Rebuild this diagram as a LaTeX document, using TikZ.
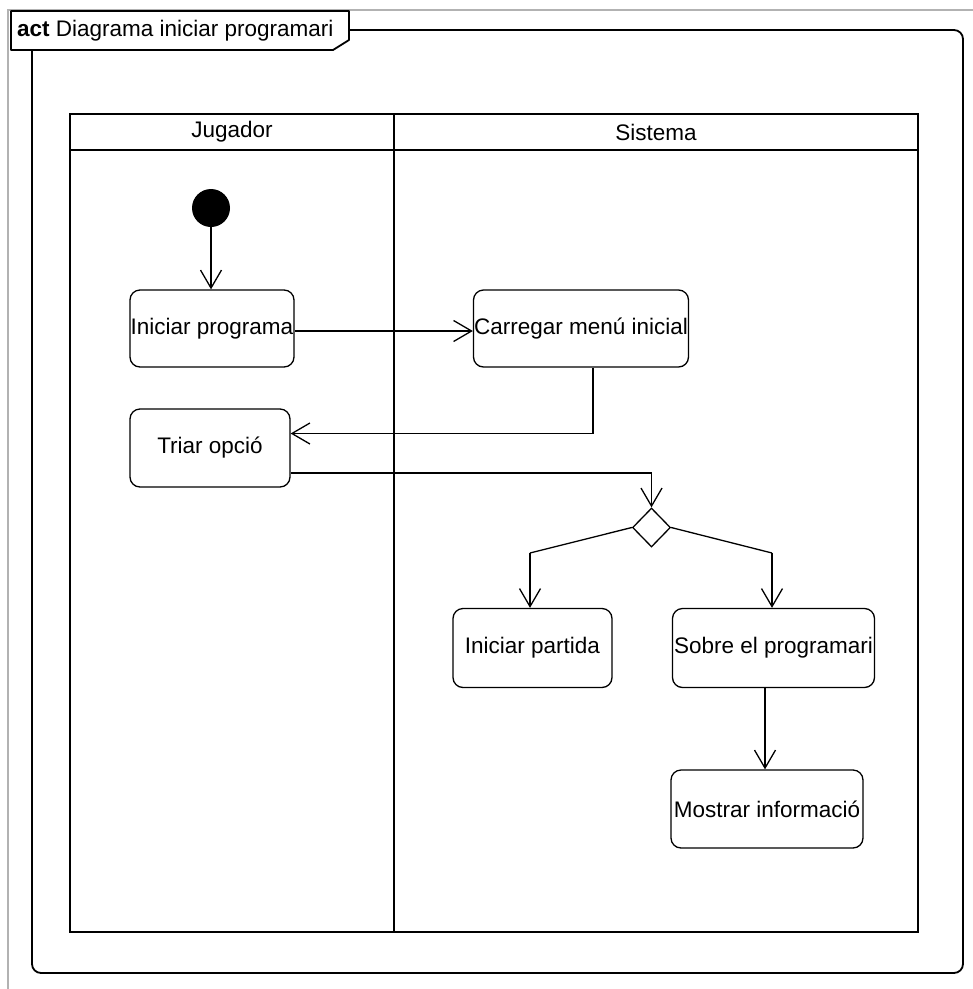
\documentclass[tikz,border=0pt]{standalone}
\usepackage{fontspec}
\setmainfont{Liberation Sans}
\usetikzlibrary{shapes.geometric,arrows.meta}
\begin{document}
\begin{tikzpicture}[x=1pt,y=-1pt,
  every node/.style={font=\fontsize{22.5}{26}\selectfont},
  actbox/.style={draw,line width=1.3pt,rounded corners=10pt,inner sep=0pt},
  arr/.style={line width=1.3pt,-{Straight Barb[length=18pt,width=21pt,line width=1.3pt]}},
  frameline/.style={line width=1.8pt,line join=round},
  plain/.style={line width=1.3pt}]
\useasboundingbox (0,0) rectangle (973,989);
% outer grey border
\draw[gray!60,line width=1.2pt] (8,989) -- (8,10) -- (973,10);
% frame tab
\draw[frameline] (11,11) -- (349,11) -- (349,40) -- (333,50) -- (11,50) -- cycle;
\node[anchor=west,inner sep=0pt] (title) at (17,31) {\textbf{act} Diagrama iniciar programari};
% main frame
\draw[frameline,rounded corners=9pt] (349,30) -- (963,30) -- (963,973) -- (32,973) -- (32,50);
% swimlanes
\draw[plain] (70,114) rectangle (918,932);
\draw[plain] (70,150) -- (918,150);
\draw[plain] (394,114) -- (394,932);
\node (jug) at (232,132) {Jugador};
\node (sis) at (656,132) {Sistema};
% nodes
\node[circle,fill=black,minimum size=38pt,inner sep=0pt] (start) at (211,208) {};
\node[actbox,minimum width=164pt,minimum height=77pt] (ip) at (212,328.5) {Iniciar programa};
\node[actbox,minimum width=215pt,minimum height=77pt] (cm) at (581,328.5) {Carregar menú inicial};
\node[actbox,minimum width=160pt,minimum height=78pt] (to) at (210,448) {Triar opció};
\node[draw,diamond,line width=1.3pt,minimum width=38pt,minimum height=39pt,inner sep=0pt] (dec) at (651.5,527.5) {};
\node[actbox,minimum width=159pt,minimum height=79pt] (ipart) at (532.5,648) {Iniciar partida};
\node[actbox,minimum width=202pt,minimum height=79pt] (sobre) at (773.5,648) {Sobre el programari};
\node[actbox,minimum width=192pt,minimum height=78pt] (most) at (767,809) {Mostrar informació};
\coordinate (bl) at (530,553);
\coordinate (br) at (772,553);
% connectors
\draw[arr] (start) -- (ip.north -| start);
\draw[arr] ([yshift=-2.5pt]ip.east) -- ([yshift=-2.5pt]ip.east -| cm.west);
\draw[arr] ([xshift=12pt]cm.south) |- ([yshift=14.5pt]to.east);
\draw[arr] ([yshift=-25pt]to.east) -| (dec.north);
\draw[plain] (dec.west) -- (bl);
\draw[arr] (bl) -- (bl |- ipart.north);
\draw[plain] (dec.east) -- (br);
\draw[arr] (br) -- (br |- sobre.north);
\draw[arr] ([xshift=-8.5pt]sobre.south) -- ([xshift=-8.5pt]sobre.south |- most.north);
\end{tikzpicture}
\end{document}
